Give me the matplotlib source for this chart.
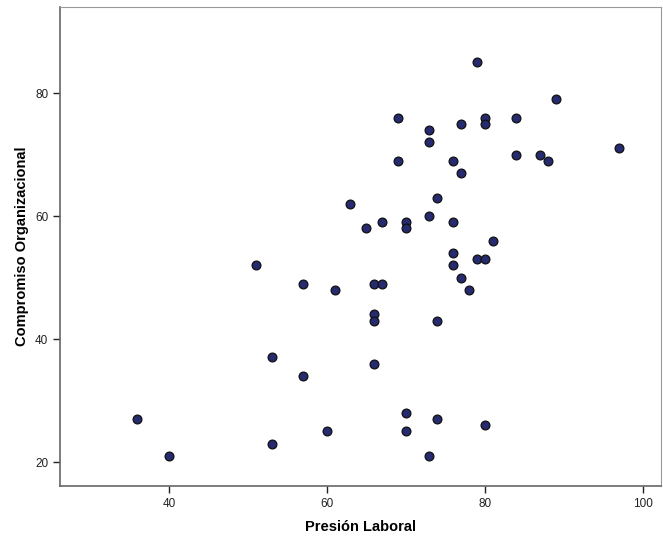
import matplotlib
matplotlib.use("Agg")
import matplotlib.pyplot as plt

plt.rcParams['font.family'] = ['Liberation Sans', 'DejaVu Sans']

# Presion Laboral (x) vs Compromiso Organizacional (y)
presion = [36, 40, 51, 53, 53, 57, 57, 60, 61, 63, 65, 66, 66, 66, 66, 67, 67,
           69, 69, 70, 70, 70, 70, 73, 73, 73, 73, 74, 74, 74, 76, 76, 76, 76,
           77, 77, 77, 78, 79, 79, 80, 80, 80, 80, 81, 84, 84, 87, 88, 89, 97]
compromiso = [27, 21, 52, 37, 23, 49, 34, 25, 48, 62, 58, 49, 44, 43, 36, 59, 49,
              76, 69, 59, 58, 28, 25, 74, 72, 60, 21, 63, 43, 27, 69, 59, 54, 52,
              75, 67, 50, 48, 85, 53, 76, 75, 53, 26, 56, 76, 70, 70, 69, 79, 71]

x_ticks = [40, 60, 80, 100]
y_ticks = [20, 40, 60, 80]

fig = plt.figure(figsize=(6.63, 5.37), dpi=100)
ax = fig.add_axes([0.0905, 0.095, 0.906, 0.892])

ax.scatter(presion, compromiso, s=40, c='#262a6e', edgecolors='#111111',
           linewidths=0.9, zorder=3)

ax.set_xlim(26.2, 102.3)
ax.set_ylim(16.1, 94.0)
ax.set_xticks(x_ticks)
ax.set_yticks(y_ticks)

for side in ['top', 'right']:
    ax.spines[side].set_color('#999999')
for side in ['left', 'bottom']:
    ax.spines[side].set_color('#666666')
    ax.spines[side].set_linewidth(1.2)

ax.tick_params(direction='out', length=5, width=1, color='#222222',
               labelsize=8.5, labelcolor='#222222')

ax.set_xlabel('Presión Laboral', fontsize=10.5, fontweight='bold', labelpad=7)
ax.set_ylabel('Compromiso Organizacional', fontsize=10.5, fontweight='bold', labelpad=4)

fig.savefig('out.png', dpi=100)
